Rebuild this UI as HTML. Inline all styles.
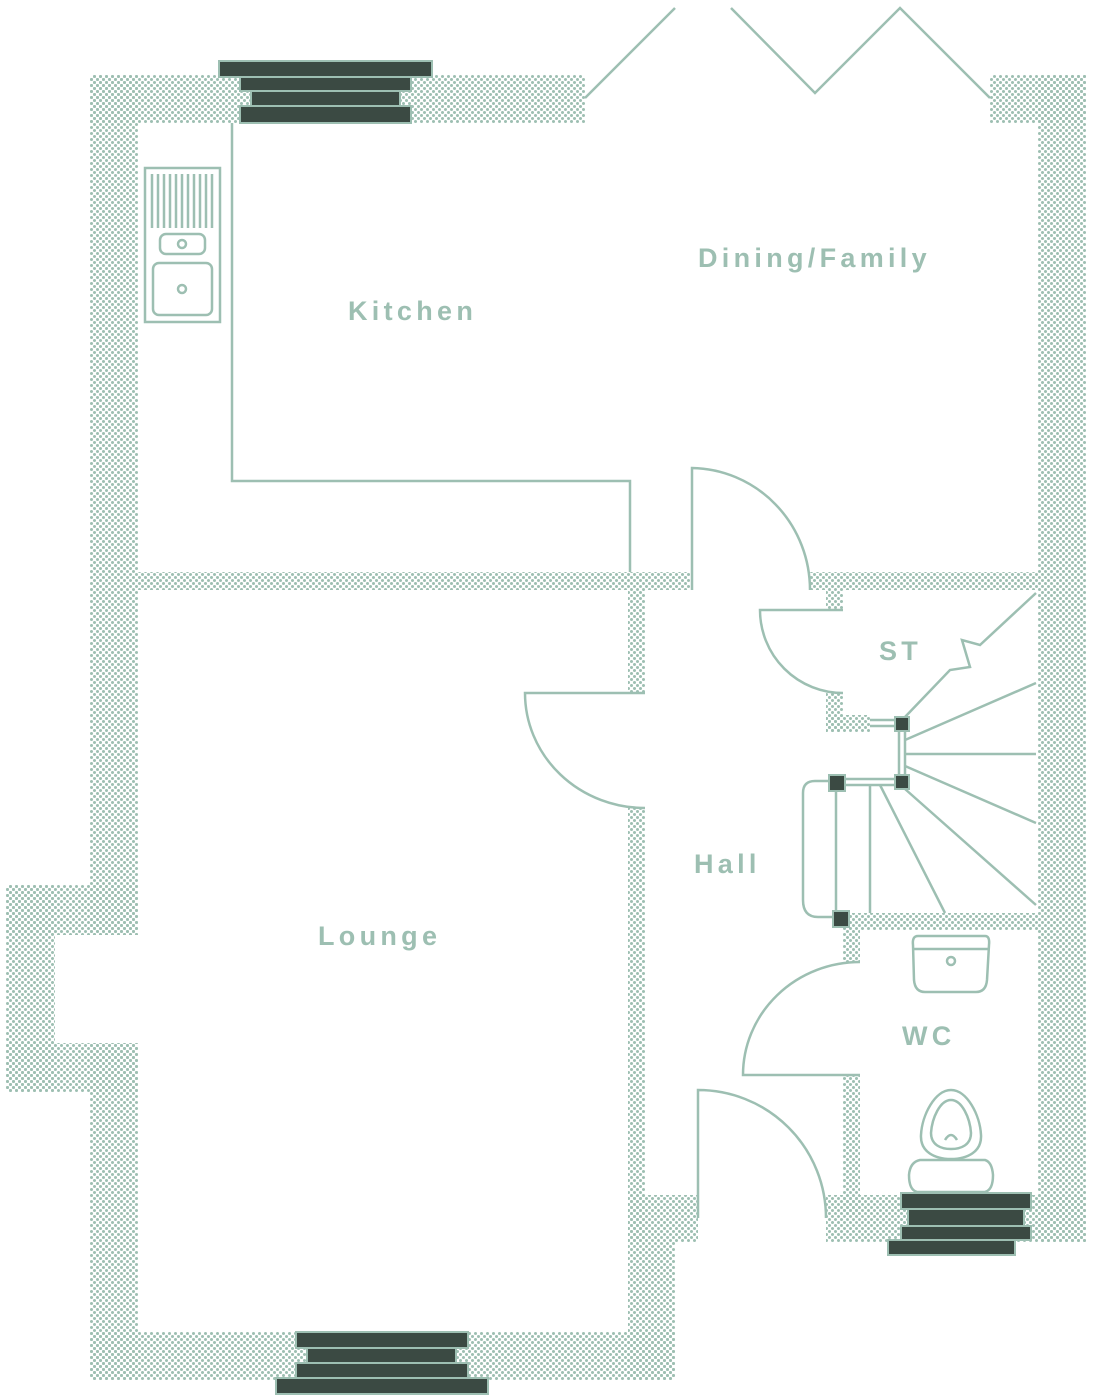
<!DOCTYPE html>
<html><head><meta charset="utf-8"><style>
html,body{margin:0;padding:0;background:#fff;}
svg{display:block;}
text{font-family:"Liberation Sans",sans-serif;font-size:27px;fill:#9dbfb2;letter-spacing:4.3px;font-weight:bold;}
</style></head><body>
<svg width="1102" height="1400" viewBox="0 0 1102 1400" xmlns="http://www.w3.org/2000/svg">
<defs>
<pattern id="d" width="6" height="6" patternUnits="userSpaceOnUse">
<circle cx="1.5" cy="1.5" r="1.5" fill="#9dbfb2"/><circle cx="4.5" cy="4.5" r="1.5" fill="#9dbfb2"/>
</pattern>
</defs>
<g fill="url(#d)">
<rect x="90" y="75" width="495" height="48"/>
<rect x="90" y="75" width="48" height="860"/>
<rect x="6" y="885" width="132" height="50"/>
<rect x="6" y="885" width="49" height="207"/>
<rect x="6" y="1043" width="132" height="49"/>
<rect x="90" y="1043" width="48" height="337"/>
<rect x="90" y="1332" width="585" height="48"/>
<rect x="990" y="75" width="96" height="48"/>
<rect x="1038" y="75" width="48" height="1167"/>
<rect x="138" y="572" width="552" height="18"/>
<rect x="810" y="572" width="228" height="18"/>
<rect x="628" y="590" width="17" height="103"/>
<rect x="628" y="808" width="17" height="434"/>
<rect x="628" y="1195" width="70" height="47"/>
<rect x="628" y="1242" width="47" height="138"/>
<rect x="826" y="590" width="17" height="20"/>
<rect x="826" y="693" width="17" height="39"/>
<rect x="826" y="715" width="44" height="17"/>
<rect x="843" y="913" width="195" height="17"/>
<rect x="843" y="930" width="17" height="32"/>
<rect x="843" y="1075" width="17" height="140"/>
<rect x="826" y="1195" width="260" height="47"/>
</g>
<g fill="#3b4a43" stroke="#9dbfb2" stroke-width="2">
<rect x="219" y="61" width="213" height="16"/>
<rect x="240" y="77" width="171" height="14"/>
<rect x="251" y="91" width="149" height="15"/>
<rect x="240" y="106" width="171" height="17"/>
<rect x="296" y="1332" width="172" height="16"/>
<rect x="307" y="1348" width="149" height="15"/>
<rect x="296" y="1363" width="172" height="15"/>
<rect x="276" y="1378" width="212" height="16"/>
<rect x="901" y="1193" width="130" height="16"/>
<rect x="908" y="1209" width="116" height="17"/>
<rect x="901" y="1226" width="130" height="14"/>
<rect x="888" y="1240" width="127" height="15"/>
<rect x="895" y="717" width="14" height="14"/>
<rect x="895" y="775" width="14" height="14"/>
<rect x="829" y="775" width="16" height="16"/>
<rect x="833" y="911" width="16" height="16"/>
</g>
<g fill="none" stroke="#9dbfb2" stroke-width="2.5">
<path d="M232 123V481H630V572"/>
<path d="M585 98L675 8M731 8L815 93L900 8L990 98"/>
<path d="M692 590V468A120 122 0 0 1 810 590"/>
<path d="M645 693H525A120 115 0 0 0 645 808"/>
<path d="M698 1218V1090A128 128 0 0 1 826 1218"/>
<path d="M860 1075H743A117 113 0 0 1 860 962"/>
<path d="M843 610H760A83 83 0 0 0 843 693"/>
<path d="M870 720H895M870 726H895M899 731V775M905 731V775M845 779H895M845 785H895"/>
<path d="M905 717L950 670L970 667L962 640L980 645L1036 593"/>
<path d="M905 740L1036 683M905 754H1036M905 766L1036 823M905 789L1036 905M880 785L945 913M870 785V913M836 791V911M829 781H815Q803 781 803 793V900Q803 917 818 917H833"/>
<rect x="145" y="168" width="75" height="154"/>
<path d="M152 174V228M158 174V228M164 174V228M170 174V228M176 174V228M182 174V228M188 174V228M194 174V228M200 174V228M206 174V228M212 174V228"/>
<rect x="160" y="234" width="45" height="20" rx="6"/>
<circle cx="182" cy="244" r="4"/>
<rect x="153" y="263" width="59" height="52" rx="6"/>
<circle cx="182" cy="289" r="4"/>
<path d="M918 936H985Q990 936 989 945L987 980Q986 992 976 992H925Q915 992 914 980L913 945Q912 936 918 936Z"/>
<path d="M914 949H989"/><circle cx="951" cy="961" r="4"/>
<path d="M951 1090C935 1090 922 1115 921 1135C920 1152 935 1159 951 1159C967 1159 982 1152 981 1135C980 1115 967 1090 951 1090Z"/>
<path d="M951 1100C940 1100 932 1118 931 1133C931 1145 941 1149 951 1149C961 1149 971 1145 971 1133C970 1118 962 1100 951 1100Z"/>
<path d="M945 1140Q951 1130 957 1140"/>
<path d="M920 1160H985Q992 1162 993 1175Q993 1190 985 1192H917Q909 1190 909 1175Q910 1162 920 1160Z"/>
</g>
<text x="698" y="267">Dining/Family</text>
<text x="348" y="320">Kitchen</text>
<text x="879" y="660">ST</text>
<text x="694" y="873">Hall</text>
<text x="318" y="945">Lounge</text>
<text x="902" y="1045">WC</text>
</svg>
</body></html>
